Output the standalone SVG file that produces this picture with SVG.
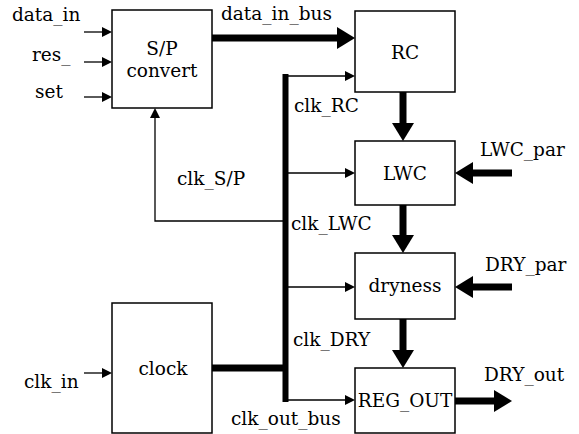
<svg xmlns="http://www.w3.org/2000/svg" width="579" height="434" viewBox="0 0 579 434">
<style>
  .box { fill: #ffffff; stroke: #000000; stroke-width: 1.5; }
  .lbl { font-family: "DejaVu Serif", "Liberation Serif", serif; font-size: 18.5px; fill: #000000; }
  .mid { text-anchor: middle; }
  .thin { fill: none; stroke: #000000; stroke-width: 1.3; }
  .thick { fill: none; stroke: #000000; stroke-width: 7; }
  .bus { fill: none; stroke: #000000; stroke-width: 6; }
</style>
<defs>
  <marker id="ah" markerUnits="userSpaceOnUse" markerWidth="11" markerHeight="10" refX="1" refY="5" orient="auto">
    <path d="M0,0 L10,5 L0,10 Z" fill="#000000"/>
  </marker>
  <marker id="ahThick" markerUnits="userSpaceOnUse" markerWidth="19" markerHeight="24" refX="1" refY="12" orient="auto">
    <path d="M0,1 L18,12 L0,23 Z" fill="#000000"/>
  </marker>
</defs>
<rect width="579" height="434" fill="#ffffff"/>

<g id="connectors">
  <path class="thin" d="M84,32 H103" marker-end="url(#ah)"/>
  <path class="thin" d="M84,62 H103" marker-end="url(#ah)"/>
  <path class="thin" d="M84,97 H103" marker-end="url(#ah)"/>
  <path class="thin" d="M84,373 H103" marker-end="url(#ah)"/>
  <path class="thick" d="M212,38 H338" marker-end="url(#ahThick)"/>
  <path class="bus" d="M285.5,74 V402"/>
  <path class="thick" d="M212,368 H285"/>
  <path class="thin" d="M283,76 H346" marker-end="url(#ah)"/>
  <path class="thin" d="M285,173 H346" marker-end="url(#ah)"/>
  <path class="thin" d="M285,287 H346" marker-end="url(#ah)"/>
  <path class="thin" d="M285,400 H346" marker-end="url(#ah)"/>
  <path class="thin" d="M285,221 H155 V117" marker-end="url(#ah)"/>
  <path class="thick" d="M403,92 V124" marker-end="url(#ahThick)"/>
  <path class="thick" d="M403,205 V236" marker-end="url(#ahThick)"/>
  <path class="thick" d="M403,319 V351" marker-end="url(#ahThick)"/>
  <path class="thick" d="M512,173 H472" marker-end="url(#ahThick)"/>
  <path class="thick" d="M512,287 H472" marker-end="url(#ahThick)"/>
  <path class="thick" d="M455,401 H495" marker-end="url(#ahThick)"/>
</g>

<g id="sp_convert">
  <rect class="box" x="112" y="10" width="100" height="98"/>
  <text class="lbl mid" x="162" y="55">S/P</text>
  <text class="lbl mid" x="162" y="77">convert</text>
</g>
<g id="rc">
  <rect class="box" x="355" y="11" width="100" height="81"/>
  <text class="lbl mid" x="405" y="59">RC</text>
</g>
<g id="lwc">
  <rect class="box" x="355" y="141" width="100" height="64"/>
  <text class="lbl mid" x="405" y="180">LWC</text>
</g>
<g id="dryness">
  <rect class="box" x="355" y="253" width="100" height="66"/>
  <text class="lbl mid" x="405" y="292">dryness</text>
</g>
<g id="reg_out">
  <rect class="box" x="355" y="368" width="100" height="65"/>
  <text class="lbl mid" x="405" y="407">REG_OUT</text>
</g>
<g id="clock">
  <rect class="box" x="112" y="303" width="100" height="130"/>
  <text class="lbl mid" x="163" y="375">clock</text>
</g>

<g id="labels">
  <text class="lbl" x="12" y="21">data_in</text>
  <text class="lbl" x="32" y="61">res_</text>
  <text class="lbl" x="35" y="98">set</text>
  <text class="lbl" x="24" y="388">clk_in</text>
  <text class="lbl" x="221" y="20">data_in_bus</text>
  <text class="lbl" x="294" y="112">clk_RC</text>
  <text class="lbl" x="177" y="185">clk_S/P</text>
  <text class="lbl" x="291" y="230">clk_LWC</text>
  <text class="lbl" x="293" y="346">clk_DRY</text>
  <text class="lbl" x="231" y="425">clk_out_bus</text>
  <text class="lbl" x="480" y="156">LWC_par</text>
  <text class="lbl" x="485" y="271">DRY_par</text>
  <text class="lbl" x="484" y="381">DRY_out</text>
</g>
</svg>
